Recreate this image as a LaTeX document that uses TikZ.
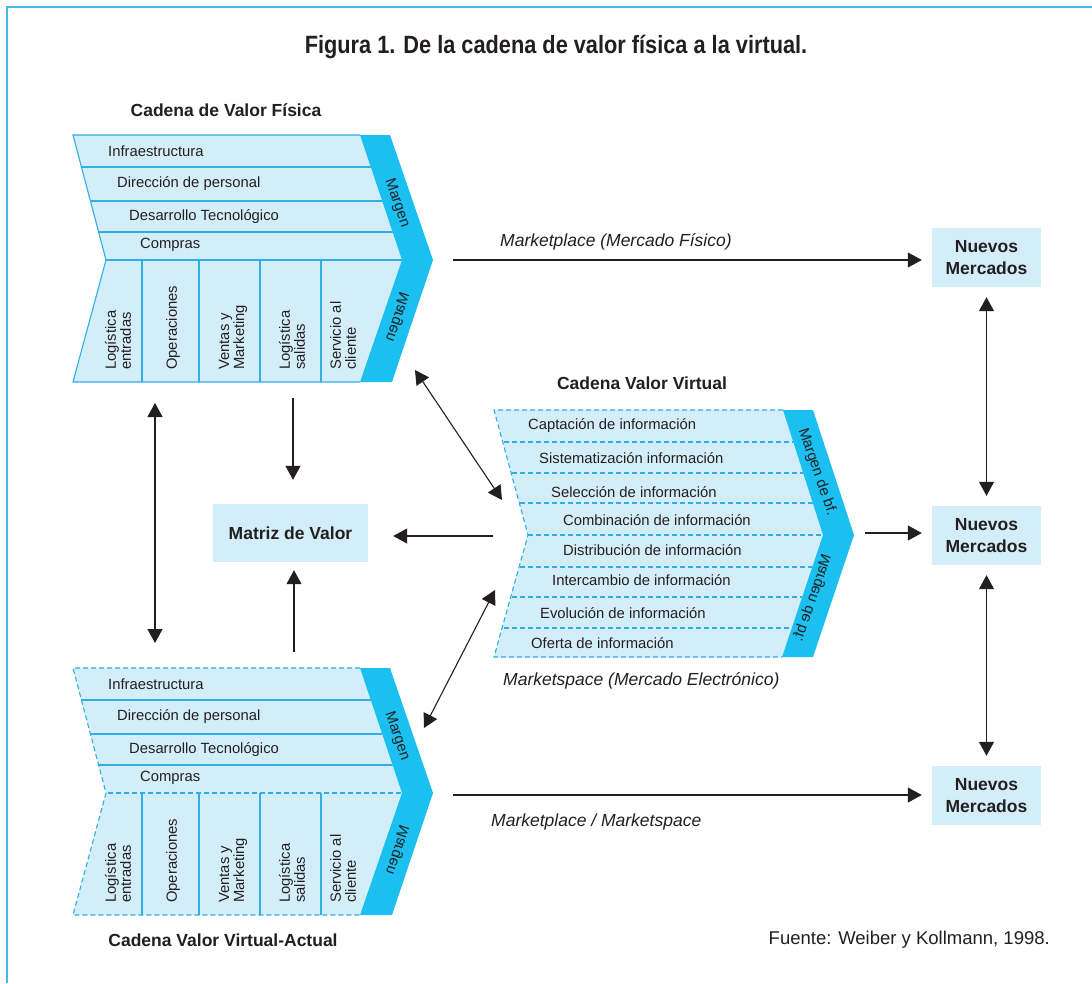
\documentclass[tikz,border=0pt]{standalone}
\usepackage{fontspec}
\setmainfont{Liberation Sans}
\newfontfamily\headfont[FakeStretch=0.87]{Liberation Sans}
\usetikzlibrary{arrows.meta}

\definecolor{paleblue}{HTML}{D4EEF9}
\definecolor{bandblue}{HTML}{1CC0F0}
\definecolor{edgeblue}{HTML}{2FAFE4}
\definecolor{framecol}{HTML}{45B9E8}
\definecolor{ink}{HTML}{231F20}

% one physical value chain (support rows, primary columns, margin band)
% #1 = style of the outer outline and of the line between support and primary part
\newcommand{\physchain}[1]{%
  \fill[paleblue] (73,135) -- (360,135) -- (402,260) -- (360,382) -- (73,382) -- (106,260) -- cycle;
  \begin{scope}
    \clip (73,135) -- (360,135) -- (402,260) -- (360,382) -- (73,382) -- (106,260) -- cycle;
    \foreach \yy in {167,201,232} \draw[chainline] (60,\yy) -- (420,\yy);
    \draw[chainline,#1] (60,260) -- (420,260);
    \foreach \xx in {142,199,260,321} \draw[chainline] (\xx,260) -- (\xx,390);
  \end{scope}
  \draw[chainline,#1] (360,135) -- (73,135) -- (106,260) -- (73,382) -- (360,382);
  \fill[bandblue] (360,135) -- (390,135) -- (433,260) -- (392,382) -- (360,382) -- (402,260) -- cycle;
  \node[txt,anchor=west] (infra) at (108,151) {Infraestructura};
  \node[txt,anchor=west] (rrhh) at (117,184) {Dirección de personal};
  \node[txt,anchor=west] (tec) at (129,217) {Desarrollo Tecnológico};
  \node[txt,anchor=west] (comp) at (140,245) {Compras};
  \node[vtxt] (le) at (118,370) {Logística\\entradas};
  \node[vtxt] (ope) at (173,370) {Operaciones};
  \node[vtxt] (vm) at (233,370) {Ventas y\\Marketing};
  \node[vtxt] (ls) at (292,370) {Logística\\salidas};
  \node[vtxt] (sc) at (343,370) {Servicio al\\cliente};
  \node[txt,rotate=-71] (mup) at (397,203) {Margen};
  \node[txt,mirrored] (mdown) at (398,317) {Margen};
}

\begin{document}
\begin{tikzpicture}[x=1pt,y=-1pt,
  txt/.style={inner sep=0pt,text=ink,font=\fontsize{14.8}{17}\selectfont},
  vtxt/.style={txt,rotate=90,anchor=west,align=left,font=\fontsize{14.8}{15}\selectfont},
  mirrored/.style={xscale=-1,rotate=-71},
  boldlabel/.style={inner sep=0pt,text=ink,font=\fontsize{17.5}{22}\selectfont\bfseries,align=center},
  itlabel/.style={inner sep=0pt,text=ink,font=\fontsize{17.5}{21}\selectfont\itshape},
  infobox/.style={fill=paleblue,inner sep=0pt,text=ink,font=\fontsize{17.5}{22}\selectfont\bfseries,align=center},
  chainline/.style={draw=edgeblue,line width=1.1pt},
  dashline/.style={dash pattern=on 5pt off 3pt},
  arr/.style={draw=ink,line width=1.1pt,-{Triangle[length=14pt,width=15pt]}},
  dblarr/.style={draw=ink,line width=1.1pt,{Triangle[length=14pt,width=15pt]}-{Triangle[length=14pt,width=15pt]}}]

\useasboundingbox (0,0) rectangle (1092,983);
\fill[white] (0,0) rectangle (1092,983);

% frame
\draw[framecol,line width=1.6pt] (7,983) -- (7,7) -- (1092,7);

% title
\node[inner sep=0pt,text=ink,font=\headfont\fontsize{25}{28}\selectfont\bfseries] (title) at (556,47)
  {Figura 1. De la cadena de valor física a la virtual.};

% physical value chain
\begin{scope}[name prefix=phys-]
  \physchain{}
  \coordinate (out) at (453,260);
  \coordinate (down) at (293,398);
  \coordinate (diag) at (415,370);
  \coordinate (vert) at (155,403);
\end{scope}
\node[boldlabel] (physname) at (226,110) {Cadena de Valor Física};

% current virtual value chain
\begin{scope}[shift={(0,533)},name prefix=act-]
  \physchain{dashline}
  \coordinate (out) at (453,262);
  \coordinate (up) at (294,119);
  \coordinate (diag) at (424,195);
  \coordinate (vert) at (155,110);
\end{scope}
\node[boldlabel] (actname) at (223,940) {Cadena Valor Virtual-Actual};

% virtual value chain
\fill[paleblue] (494,410) -- (783,410) -- (823,535) -- (782,657) -- (494,657) -- (528,535) -- cycle;
\begin{scope}
  \clip (494,410) -- (783,410) -- (823,535) -- (782,657) -- (494,657) -- (528,535) -- cycle;
  \foreach \yy in {442,473,503,535,567,597,628} \draw[chainline,dashline] (480,\yy) -- (840,\yy);
\end{scope}
\draw[chainline,dashline] (783,410) -- (494,410) -- (528,535) -- (494,657) -- (782,657);
\fill[bandblue] (783,410) -- (813,410) -- (854,535) -- (813,657) -- (782,657) -- (823,535) -- cycle;
\node[txt,anchor=west] (v1) at (528,426) {Captación de información};
\node[txt,anchor=west] (v2) at (539,458) {Sistematización información};
\node[txt,anchor=west] (v3) at (551,492) {Selección de información};
\node[txt,anchor=west] (v4) at (563,520) {Combinación de información};
\node[txt,anchor=west] (v5) at (563,550) {Distribución de información};
\node[txt,anchor=west] (v6) at (552,580) {Intercambio de información};
\node[txt,anchor=west] (v7) at (540,613) {Evolución de información};
\node[txt,anchor=west] (v8) at (531,643) {Oferta de información};
\node[txt,rotate=-71] (vmup) at (817,472) {Margen de bf.};
\node[txt,mirrored] (vmdown) at (813,598) {Margen de bf.};
\node[boldlabel] (virtname) at (642,383) {Cadena Valor Virtual};
\coordinate (virt-out) at (865,533);
\coordinate (virt-in) at (493,536);
\coordinate (virt-diagup) at (502,500);
\coordinate (virt-diagdown) at (495,590);

% boxes
\node[infobox,minimum width=155pt,minimum height=58pt] (matriz) at (290.5,533) {Matriz de Valor};
\node[infobox,minimum width=109pt,minimum height=59pt] (mk1) at (986.5,257.5) {Nuevos\\Mercados};
\node[infobox,minimum width=109pt,minimum height=59pt] (mk2) at (986.5,535.5) {Nuevos\\Mercados};
\node[infobox,minimum width=109pt,minimum height=59pt] (mk3) at (986.5,795.5) {Nuevos\\Mercados};

% market labels
\node[itlabel,anchor=west] (mplace) at (500,242) {Marketplace (Mercado Físico)};
\node[itlabel,anchor=west] (mspace) at (503,681) {Marketspace (Mercado Electrónico)};
\node[itlabel,anchor=west] (mboth) at (491,822) {Marketplace / Marketspace};

% source
\node[inner sep=0pt,text=ink,font=\fontsize{18.5}{22}\selectfont,anchor=east] (src) at (1050,940)
  {Fuente: Weiber y Kollmann, 1998.};

% connectors
\draw[arr,shorten >=10pt] (phys-out) -- (phys-out -| mk1.west);
\draw[arr,shorten >=10pt] (virt-out) -- (virt-out -| mk2.west);
\draw[arr,shorten >=10pt] (act-out) -- (act-out -| mk3.west);
\draw[dblarr,shorten <=10pt,shorten >=10pt] (mk1.south) -- (mk2.north);
\draw[dblarr,shorten <=10pt,shorten >=10pt] (mk2.south) -- (mk3.north);
\draw[arr,shorten >=25pt] (virt-in) -- (virt-in -| matriz.east);
\draw[arr,shorten >=24pt] (phys-down) -- (phys-down |- matriz.north);
\draw[arr,shorten >=8pt] (act-up) -- (act-up |- matriz.south);
\draw[dblarr] (phys-diag) -- (virt-diagup);
\draw[dblarr] (virt-diagdown) -- (act-diag);
\draw[dblarr] (phys-vert) -- (act-vert);

\end{tikzpicture}
\end{document}
